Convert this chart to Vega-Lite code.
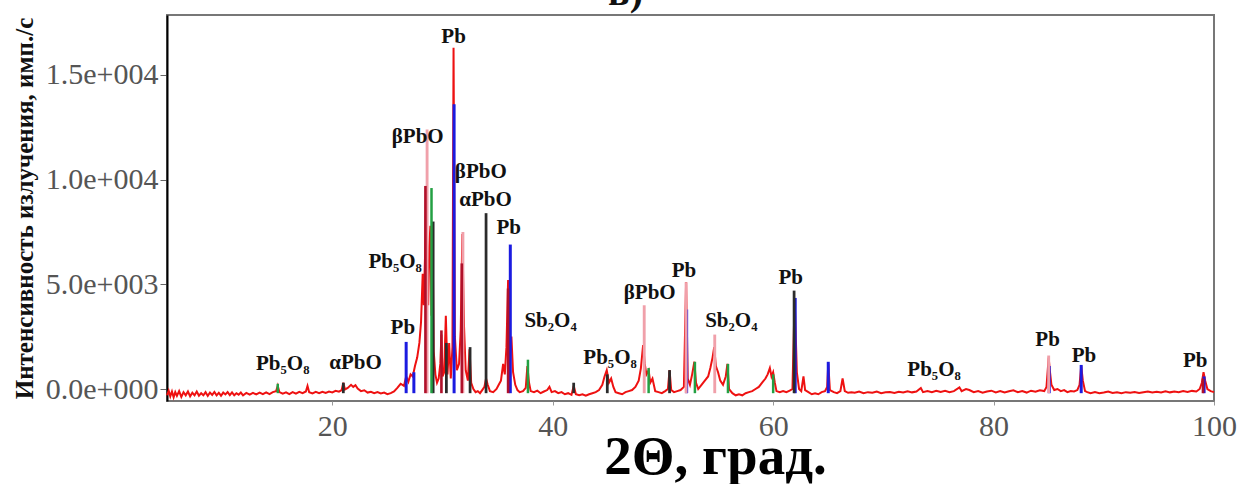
{
  "$schema": "https://vega.github.io/schema/vega-lite/v6.json",
  "width": 1047,
  "height": 386,
  "autosize": {"type": "none"},
  "padding": {"left": 167, "top": 15, "right": 32, "bottom": 83},
  "background": "white",
  "title": {"text": "в)", "font": "Liberation Serif", "fontSize": 40, "fontWeight": "bold", "color": "#111", "anchor": "middle", "dx": -65, "offset": 2},
  "config": {"view": {"stroke": "#777", "strokeWidth": 2}},
  "datasets": {
    "spectrum": [
      {"t":5.0,"i":-300},{"t":5.15,"i":-80},{"t":5.3,"i":-350},{"t":5.45,"i":-120},{"t":5.6,"i":-400},{"t":5.75,"i":-150},{"t":5.9,"i":-330},{"t":6.1,"i":-100},{"t":6.3,"i":-380},{"t":6.5,"i":-150},{"t":6.7,"i":-300},{"t":6.9,"i":-120},{"t":7.1,"i":-350},{"t":7.3,"i":-180},{"t":7.5,"i":-300},{"t":7.7,"i":-120},{"t":7.9,"i":-320},{"t":8.1,"i":-200},{"t":8.3,"i":-300},{"t":8.5,"i":-150},{"t":8.7,"i":-330},{"t":8.9,"i":-170},{"t":9.1,"i":-280},{"t":9.3,"i":-140},{"t":9.5,"i":-300},{"t":9.7,"i":-180},{"t":9.9,"i":-320},{"t":10.1,"i":-170},{"t":10.3,"i":-260},{"t":10.5,"i":-150},{"t":10.7,"i":-290},{"t":10.9,"i":-160},{"t":11.1,"i":-300},{"t":11.3,"i":-200},{"t":11.5,"i":-270},{"t":11.7,"i":-170},{"t":11.9,"i":-300},{"t":12.2,"i":-190},{"t":12.5,"i":-270},{"t":12.8,"i":-180},{"t":13.1,"i":-260},{"t":13.4,"i":-170},{"t":13.7,"i":-250},{"t":14.0,"i":-160},{"t":14.3,"i":-240},{"t":14.6,"i":-150},{"t":14.9,"i":-100},{"t":15.05,"i":150},{"t":15.2,"i":-150},{"t":15.5,"i":-220},{"t":15.8,"i":-160},{"t":16.1,"i":-240},{"t":16.4,"i":-150},{"t":16.7,"i":-220},{"t":17.0,"i":-140},{"t":17.3,"i":-200},{"t":17.6,"i":-120},{"t":17.75,"i":150},{"t":17.9,"i":-150},{"t":18.2,"i":-210},{"t":18.5,"i":-140},{"t":18.8,"i":-200},{"t":19.1,"i":-130},{"t":19.4,"i":-190},{"t":19.7,"i":-120},{"t":20.0,"i":-160},{"t":20.3,"i":-90},{"t":20.6,"i":-130},{"t":20.85,"i":-50},{"t":21.0,"i":300},{"t":21.15,"i":-20},{"t":21.4,"i":50},{"t":21.7,"i":200},{"t":21.9,"i":100},{"t":22.1,"i":180},{"t":22.3,"i":20},{"t":22.6,"i":-100},{"t":22.9,"i":-60},{"t":23.2,"i":-170},{"t":23.5,"i":-130},{"t":23.8,"i":-200},{"t":24.1,"i":-150},{"t":24.4,"i":-210},{"t":24.7,"i":-170},{"t":25.0,"i":-250},{"t":25.3,"i":-200},{"t":25.6,"i":-120},{"t":25.9,"i":50},{"t":26.2,"i":250},{"t":26.5,"i":150},{"t":26.7,"i":600},{"t":26.9,"i":350},{"t":27.1,"i":700},{"t":27.3,"i":600},{"t":27.5,"i":1100},{"t":27.7,"i":1500},{"t":27.9,"i":2200},{"t":28.05,"i":3200},{"t":28.2,"i":5500},{"t":28.3,"i":4000},{"t":28.42,"i":6500},{"t":28.5,"i":9600},{"t":28.6,"i":6000},{"t":28.7,"i":4000},{"t":28.8,"i":6800},{"t":28.9,"i":7800},{"t":29.0,"i":3500},{"t":29.1,"i":7200},{"t":29.2,"i":1800},{"t":29.35,"i":700},{"t":29.5,"i":300},{"t":29.65,"i":500},{"t":29.8,"i":1200},{"t":29.9,"i":2600},{"t":30.0,"i":600},{"t":30.15,"i":800},{"t":30.3,"i":3500},{"t":30.45,"i":700},{"t":30.6,"i":2200},{"t":30.75,"i":500},{"t":30.9,"i":2000},{"t":31.0,"i":16300},{"t":31.12,"i":2500},{"t":31.3,"i":900},{"t":31.5,"i":1200},{"t":31.65,"i":2800},{"t":31.8,"i":7400},{"t":31.95,"i":3000},{"t":32.1,"i":900},{"t":32.3,"i":400},{"t":32.45,"i":1900},{"t":32.6,"i":300},{"t":32.8,"i":0},{"t":33.0,"i":-150},{"t":33.2,"i":-100},{"t":33.4,"i":-200},{"t":33.6,"i":-50},{"t":33.8,"i":100},{"t":33.95,"i":500},{"t":34.1,"i":200},{"t":34.3,"i":-100},{"t":34.6,"i":-150},{"t":34.9,"i":0},{"t":35.1,"i":200},{"t":35.3,"i":400},{"t":35.5,"i":1200},{"t":35.65,"i":700},{"t":35.8,"i":2000},{"t":35.95,"i":5200},{"t":36.1,"i":2000},{"t":36.25,"i":2500},{"t":36.4,"i":800},{"t":36.6,"i":200},{"t":36.8,"i":-50},{"t":37.0,"i":-150},{"t":37.3,"i":-100},{"t":37.55,"i":50},{"t":37.7,"i":1100},{"t":37.85,"i":300},{"t":38.0,"i":-100},{"t":38.3,"i":-150},{"t":38.6,"i":-80},{"t":38.9,"i":-200},{"t":39.2,"i":-120},{"t":39.5,"i":-50},{"t":39.7,"i":100},{"t":39.9,"i":-150},{"t":40.2,"i":-100},{"t":40.5,"i":-200},{"t":40.8,"i":-150},{"t":41.1,"i":-250},{"t":41.4,"i":-200},{"t":41.7,"i":-280},{"t":41.9,"i":150},{"t":42.1,"i":-250},{"t":42.4,"i":-300},{"t":42.7,"i":-250},{"t":43.0,"i":-320},{"t":43.3,"i":-250},{"t":43.6,"i":-200},{"t":43.9,"i":-150},{"t":44.2,"i":-50},{"t":44.5,"i":200},{"t":44.7,"i":600},{"t":44.9,"i":900},{"t":45.1,"i":300},{"t":45.3,"i":500},{"t":45.5,"i":100},{"t":45.7,"i":-150},{"t":46.0,"i":-200},{"t":46.3,"i":-250},{"t":46.6,"i":-150},{"t":46.9,"i":-100},{"t":47.2,"i":-50},{"t":47.5,"i":100},{"t":47.8,"i":400},{"t":48.0,"i":1000},{"t":48.2,"i":2100},{"t":48.35,"i":1200},{"t":48.5,"i":700},{"t":48.7,"i":900},{"t":48.85,"i":300},{"t":49.05,"i":500},{"t":49.3,"i":-100},{"t":49.6,"i":-150},{"t":49.9,"i":-200},{"t":50.2,"i":-100},{"t":50.45,"i":0},{"t":50.6,"i":900},{"t":50.75,"i":-50},{"t":51.0,"i":-150},{"t":51.3,"i":-100},{"t":51.6,"i":-50},{"t":51.9,"i":100},{"t":52.1,"i":5100},{"t":52.25,"i":500},{"t":52.45,"i":200},{"t":52.65,"i":700},{"t":52.85,"i":1300},{"t":53.0,"i":300},{"t":53.2,"i":0},{"t":53.5,"i":200},{"t":53.8,"i":400},{"t":54.1,"i":600},{"t":54.3,"i":1000},{"t":54.5,"i":1500},{"t":54.65,"i":2000},{"t":54.8,"i":1100},{"t":55.0,"i":800},{"t":55.2,"i":400},{"t":55.45,"i":200},{"t":55.7,"i":600},{"t":55.85,"i":1200},{"t":56.0,"i":0},{"t":56.3,"i":-200},{"t":56.6,"i":-300},{"t":56.9,"i":-250},{"t":57.2,"i":-300},{"t":57.5,"i":-200},{"t":57.8,"i":-150},{"t":58.1,"i":-100},{"t":58.4,"i":0},{"t":58.7,"i":100},{"t":59.0,"i":300},{"t":59.3,"i":500},{"t":59.5,"i":700},{"t":59.7,"i":1000},{"t":59.85,"i":600},{"t":60.0,"i":800},{"t":60.15,"i":300},{"t":60.3,"i":-100},{"t":60.6,"i":-150},{"t":60.9,"i":-100},{"t":61.2,"i":-150},{"t":61.5,"i":-80},{"t":61.75,"i":0},{"t":61.95,"i":4300},{"t":62.15,"i":800},{"t":62.35,"i":0},{"t":62.55,"i":-100},{"t":62.75,"i":600},{"t":62.9,"i":-50},{"t":63.2,"i":-150},{"t":63.5,"i":-250},{"t":63.8,"i":-200},{"t":64.1,"i":-250},{"t":64.4,"i":-150},{"t":64.7,"i":-100},{"t":64.9,"i":100},{"t":65.0,"i":1200},{"t":65.15,"i":-50},{"t":65.5,"i":-150},{"t":65.8,"i":-200},{"t":66.1,"i":-100},{"t":66.3,"i":500},{"t":66.5,"i":-100},{"t":66.8,"i":-180},{"t":67.1,"i":-150},{"t":67.4,"i":-180},{"t":67.8,"i":-120},{"t":68.2,"i":-200},{"t":68.6,"i":-150},{"t":69.0,"i":-180},{"t":69.4,"i":-120},{"t":69.8,"i":-200},{"t":70.2,"i":-160},{"t":70.6,"i":-140},{"t":71.0,"i":-190},{"t":71.4,"i":-130},{"t":71.8,"i":-170},{"t":72.2,"i":-110},{"t":72.6,"i":-160},{"t":73.0,"i":-120},{"t":73.4,"i":50},{"t":73.6,"i":-150},{"t":74.0,"i":-100},{"t":74.4,"i":-150},{"t":74.8,"i":-80},{"t":75.2,"i":-140},{"t":75.6,"i":-90},{"t":76.0,"i":-150},{"t":76.4,"i":-100},{"t":76.9,"i":80},{"t":77.1,"i":-100},{"t":77.5,"i":0},{"t":77.8,"i":-50},{"t":78.2,"i":-150},{"t":78.6,"i":-100},{"t":79.0,"i":-180},{"t":79.4,"i":-120},{"t":79.8,"i":-80},{"t":80.2,"i":-160},{"t":80.6,"i":-100},{"t":81.0,"i":-170},{"t":81.4,"i":-110},{"t":81.8,"i":-60},{"t":82.2,"i":-150},{"t":82.6,"i":-100},{"t":83.0,"i":-170},{"t":83.4,"i":-80},{"t":83.8,"i":-130},{"t":84.2,"i":-60},{"t":84.6,"i":-100},{"t":84.8,"i":100},{"t":85.0,"i":1500},{"t":85.1,"i":900},{"t":85.25,"i":200},{"t":85.5,"i":-50},{"t":85.8,"i":0},{"t":86.1,"i":-100},{"t":86.4,"i":-50},{"t":86.7,"i":-150},{"t":87.0,"i":-100},{"t":87.3,"i":-120},{"t":87.6,"i":-50},{"t":87.8,"i":200},{"t":87.95,"i":1100},{"t":88.1,"i":400},{"t":88.3,"i":-100},{"t":88.5,"i":-150},{"t":88.8,"i":-200},{"t":89.2,"i":-150},{"t":89.6,"i":-200},{"t":90.0,"i":-170},{"t":90.4,"i":-120},{"t":90.8,"i":-190},{"t":91.2,"i":-160},{"t":91.6,"i":-200},{"t":92.0,"i":-150},{"t":92.4,"i":-180},{"t":92.8,"i":-140},{"t":93.2,"i":-190},{"t":93.6,"i":-150},{"t":94.0,"i":-120},{"t":94.4,"i":-170},{"t":94.8,"i":-130},{"t":95.2,"i":-170},{"t":95.6,"i":-110},{"t":96.0,"i":-160},{"t":96.4,"i":-120},{"t":96.8,"i":-150},{"t":97.2,"i":-100},{"t":97.6,"i":-140},{"t":98.0,"i":-90},{"t":98.4,"i":-120},{"t":98.7,"i":0},{"t":98.9,"i":300},{"t":99.05,"i":800},{"t":99.2,"i":400},{"t":99.4,"i":0},{"t":99.7,"i":-100},{"t":100.0,"i":-150}
    ],
    "sticks": [
      {"t":26.7,"i":2250,"phase":"Pb"},{"t":31.05,"i":13600,"phase":"Pb"},{"t":36.15,"i":6900,"phase":"Pb"},{"t":52.15,"i":3800,"phase":"Pb"},{"t":62.0,"i":4350,"phase":"Pb"},{"t":65.0,"i":1300,"phase":"Pb"},{"t":85.05,"i":1100,"phase":"Pb"},{"t":87.95,"i":1150,"phase":"Pb"},{"t":99.1,"i":600,"phase":"Pb"},{"t":27.4,"i":800,"phase":"Pb"},
      {"t":28.6,"i":12400,"phase":"βPbO"},{"t":31.85,"i":7500,"phase":"βPbO"},{"t":48.3,"i":4000,"phase":"βPbO"},{"t":52.1,"i":5100,"phase":"βPbO"},{"t":54.7,"i":2600,"phase":"βPbO"},{"t":85.0,"i":1600,"phase":"βPbO"},
      {"t":33.95,"i":8400,"phase":"αPbO"},{"t":32.5,"i":2000,"phase":"αPbO"},{"t":29.15,"i":8000,"phase":"αPbO"},{"t":30.35,"i":2200,"phase":"αPbO"},{"t":21.0,"i":300,"phase":"αPbO"},{"t":44.95,"i":700,"phase":"αPbO"},{"t":50.6,"i":900,"phase":"αPbO"},{"t":41.9,"i":300,"phase":"αPbO"},{"t":61.9,"i":4700,"phase":"αPbO"},
      {"t":28.45,"i":9700,"phase":"Pb₅O₈"},{"t":29.9,"i":2800,"phase":"Pb₅O₈"},{"t":31.75,"i":6000,"phase":"Pb₅O₈"},{"t":35.95,"i":4800,"phase":"Pb₅O₈"},{"t":99.0,"i":500,"phase":"Pb₅O₈"},
      {"t":15.05,"i":250,"phase":"Sb₂O₄"},{"t":29.0,"i":9600,"phase":"Sb₂O₄"},{"t":37.75,"i":1400,"phase":"Sb₂O₄"},{"t":48.7,"i":1000,"phase":"Sb₂O₄"},{"t":52.9,"i":1300,"phase":"Sb₂O₄"},{"t":55.9,"i":1200,"phase":"Sb₂O₄"},{"t":60.0,"i":700,"phase":"Sb₂O₄"}
    ],
    "labels": [
      {"t":15.5,"i":1200,"label":"Pb₅O₈"},{"t":22.1,"i":1240,"label":"αPbO"},{"t":26.4,"i":2900,"label":"Pb"},{"t":25.7,"i":6070,"label":"Pb₅O₈"},{"t":27.75,"i":12050,"label":"βPbO"},{"t":31.0,"i":16830,"label":"Pb"},{"t":33.47,"i":10370,"label":"βPbO"},{"t":33.9,"i":9030,"label":"αPbO"},{"t":36.0,"i":7700,"label":"Pb"},{"t":39.8,"i":3250,"label":"Sb₂O₄"},{"t":45.2,"i":1480,"label":"Pb₅O₈"},{"t":48.8,"i":4590,"label":"βPbO"},{"t":51.9,"i":5640,"label":"Pb"},{"t":56.2,"i":3250,"label":"Sb₂O₄"},{"t":61.6,"i":5300,"label":"Pb"},{"t":74.6,"i":900,"label":"Pb₅O₈"},{"t":84.9,"i":2340,"label":"Pb"},{"t":88.2,"i":1580,"label":"Pb"},{"t":98.3,"i":1340,"label":"Pb"}
    ]
  },
  "layer": [
    {
      "data": {"name": "spectrum"},
      "mark": {"type": "line", "color": "#ee1111", "strokeWidth": 2, "interpolate": "linear"},
      "encoding": {
        "x": {"field": "t", "type": "quantitative", "scale": {"domain": [5, 100], "nice": false, "zero": false},
          "axis": {"values": [20, 40, 60, 80, 100], "grid": false, "domain": false, "labelFlush": false, "labelFont": "Liberation Serif", "labelFontSize": 30, "labelColor": "#555", "labelPadding": 6, "tickSize": 4, "tickColor": "#999",
            "title": "2Θ, град.", "titleFont": "Liberation Serif", "titleFontSize": 55, "titleFontWeight": "bold", "titleColor": "#000", "titleX": 548, "titleY": 72, "titleBaseline": "alphabetic", "titleAlign": "center"}},
        "y": {"field": "i", "type": "quantitative", "scale": {"domain": [-573, 17866], "nice": false, "zero": false},
          "axis": {"values": [0, 5000, 10000, 15000], "grid": false, "domainColor": "#000", "domainWidth": 2, "labelExpr": "replace(format(datum.value, '.1e'), 'e+', 'e+00')", "labelFont": "Liberation Serif", "labelFontSize": 30, "labelColor": "#555", "labelPadding": 2, "tickSize": 7, "tickColor": "#666",
            "title": "Интенсивность излучения, имп./с", "titleFont": "Liberation Serif", "titleFontSize": 25, "titleFontWeight": "bold", "titleColor": "#111", "titleAngle": -90, "titleX": -143, "titleY": 193, "titleAlign": "center", "titleBaseline": "middle"}}
      }
    },
    {
      "data": {"name": "sticks"},
      "mark": {"type": "rule"},
      "encoding": {
        "x": {"field": "t", "type": "quantitative"},
        "y": {"field": "i", "type": "quantitative"},
        "y2": {"datum": -200},
        "color": {"field": "phase", "type": "nominal", "legend": null, "scale": {"domain": ["Pb", "βPbO", "αPbO", "Pb₅O₈", "Sb₂O₄"], "range": ["#1b1be0", "#f0a0aa", "#2b2b2b", "#b0102a", "#23a043"]}},
        "strokeWidth": {"field": "phase", "type": "nominal", "legend": null, "scale": {"domain": ["Pb", "βPbO", "αPbO", "Pb₅O₈", "Sb₂O₄"], "range": [3, 2.5, 1.5, 2, 2.5]}}
      }
    },
    {
      "data": {"name": "labels"},
      "mark": {"type": "text", "font": "Liberation Serif", "fontSize": 21, "fontWeight": "bold", "color": "#111", "align": "center", "baseline": "middle"},
      "encoding": {
        "x": {"field": "t", "type": "quantitative"},
        "y": {"field": "i", "type": "quantitative"},
        "text": {"field": "label"}
      }
    }
  ]
}
